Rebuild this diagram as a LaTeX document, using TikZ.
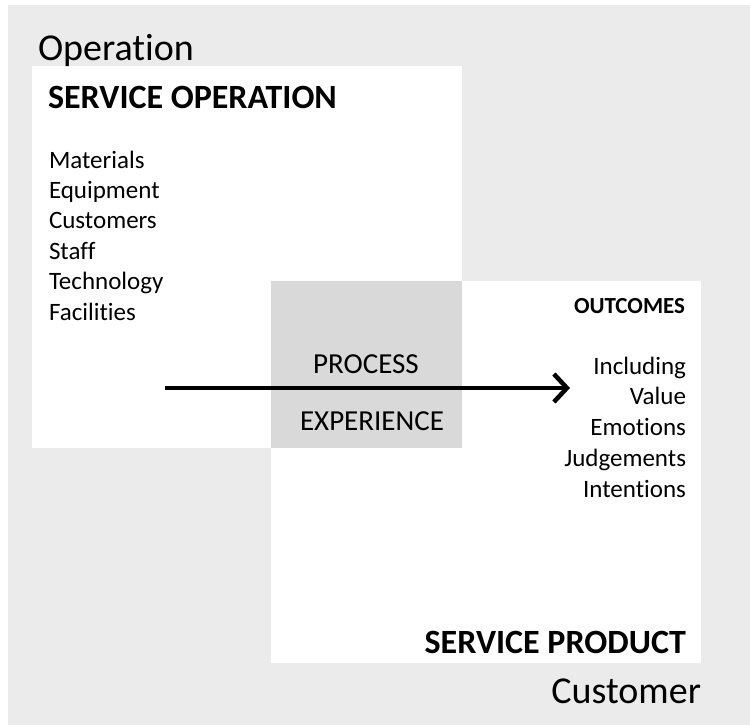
\documentclass[tikz,border=0pt]{standalone}
\usepackage{fontspec}
\setmainfont[RawFeature=-liga]{Carlito}
\usetikzlibrary{arrows.meta}
\definecolor{bgc}{HTML}{EBEBEB}
\definecolor{ovc}{HTML}{D9D9D9}
\begin{document}
\begin{tikzpicture}[x=1pt,y=-1pt,
  txt/.style={inner sep=0pt, outer sep=0pt, text=black},
  bigtxt/.style={txt, font=\fontsize{38}{44}\selectfont},
  headtxt/.style={txt, font=\bfseries\fontsize{34}{40}\selectfont},
  subhead/.style={txt, font=\bfseries\fontsize{23}{28}\selectfont},
  listtxt/.style={txt, font=\fontsize{25}{30}\selectfont},
  proctxt/.style={txt, font=\fontsize{29}{34}\selectfont},
  flow/.style={line width=4.5pt, -{Straight Barb[length=13pt,width=28pt,line width=4.5pt]}}]
\useasboundingbox (0,0) rectangle (750,725);
\fill[bgc] (8,5) rectangle (750,725);
\fill[white] (32,66) rectangle (462,448);
\fill[white] (271,281) rectangle (701,663);
\fill[ovc] (271,281) rectangle (462,448);

\node[bigtxt, anchor=base west] (op) at (38,60) {Operation};
\node[headtxt, anchor=base west] (so) at (48,108) {SERVICE OPERATION};
\foreach \t [count=\i from 0] in {Materials,Equipment,Customers,Staff,Technology,Facilities}
  \node[listtxt, anchor=base west] (in\i) at (49,168+30.4*\i) {\t};

\node[subhead, anchor=base east] (oc) at (685,313) {OUTCOMES};
\foreach \t [count=\i from 0] in {Including,Value,Emotions,Judgements,Intentions}
  \node[listtxt, anchor=base east] (out\i) at (686,374+30.75*\i) {\t};

\node[proctxt, anchor=base] (proc) at (366,373) {PROCESS};
\node[proctxt, anchor=base] (exp) at (372,430) {EXPERIENCE};

\node[headtxt, anchor=base east] (sp) at (686,653) {SERVICE PRODUCT};
\node[bigtxt, anchor=base east] (cu) at (701,703) {Customer};

\coordinate (as) at (165,388);
\coordinate (ae) at (570,388);
\draw[flow] (as) -- (ae);
\end{tikzpicture}
\end{document}
